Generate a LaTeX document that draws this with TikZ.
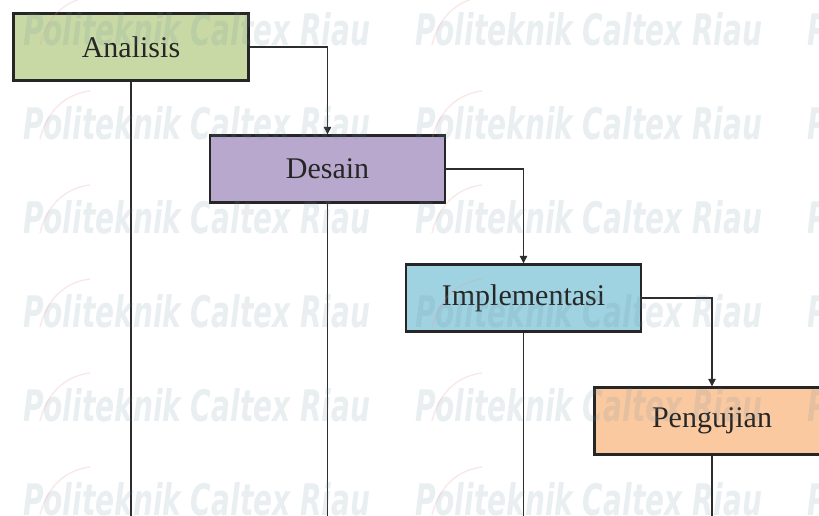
\documentclass[tikz,border=0pt]{standalone}
\usepackage{fontspec}
\setmainfont{Liberation Serif}
\newfontfamily\wmfont{DejaVu Sans Condensed}
\usetikzlibrary{arrows.meta}

\definecolor{boxgreen}{RGB}{201,217,165}
\definecolor{boxpurple}{RGB}{185,168,205}
\definecolor{boxblue}{RGB}{160,211,225}
\definecolor{boxorange}{RGB}{250,201,160}
\definecolor{linegray}{RGB}{45,45,45}
\definecolor{wmblue}{RGB}{100,140,160}
\definecolor{wmpink}{RGB}{235,150,150}

\tikzset{
  phase/.style={draw=black!85, line width=2.4pt, minimum width=235pt,
    minimum height=67pt, inner sep=0pt, font=\fontsize{30}{34}\selectfont,
    text=black!85},
  flow/.style={draw=linegray, line width=1.2pt,
    -{Triangle[width=7.5pt,length=7.5pt]}},
  drop/.style={draw=linegray, line width=1.2pt},
  wmtext/.style={anchor=north west, inner sep=0pt, text=wmblue, opacity=0.14},
  wmswoosh/.style={draw=wmpink, line width=1.4pt, opacity=0.22}
}

\begin{document}
\begin{tikzpicture}[x=1pt,y=-1pt]
  \useasboundingbox (0,0) rectangle (819,515);
  \clip (0,0) rectangle (819,515);
  \fill[white] (0,0) rectangle (819,515);

  % phase boxes
  \node[phase, fill=boxgreen]  (analisis) at (131,47)    {Analisis};
  \node[phase, fill=boxpurple] (desain)   at (327.5,169) {Desain};
  \node[phase, fill=boxblue]   (impl)     at (523.5,298) {Implementasi};
  \node[phase, fill=boxorange] (uji)      at (712,421)   {Pengujian};

  % loose ends of the drop lines
  \coordinate (analisis-end) at (analisis.south |- 0,520);
  \coordinate (desain-end)   at (desain.south |- 0,520);
  \coordinate (impl-end)     at (impl.south |- 0,520);
  \coordinate (uji-end)      at (uji.south |- 0,520);

  % step-down connectors
  \draw[flow] (analisis.east) -| (desain.north);
  \draw[flow] (desain.east) -| (impl.north);
  \draw[flow] (impl.east) -| (uji.north);

  % drop lines
  \draw[drop] (analisis.south) -- (analisis-end);
  \draw[drop] (desain.south) -- (desain-end);
  \draw[drop] (impl.south) -- (impl-end);
  \draw[drop] (uji.south) -- (uji-end);

  % watermark grid
  \foreach \r in {0,...,5}{
    \foreach \c in {0,1,2}{
      \pgfmathsetmacro{\wx}{23+392*\c}
      \pgfmathsetmacro{\wy}{12+94*\r}
      \node[wmtext] (wm-\r-\c) at (\wx,\wy)
        {\resizebox{347pt}{33pt}{\wmfont\bfseries\itshape Politeknik Caltex Riau}};
      \draw[wmswoosh] (\wx+17,\wy+33) .. controls (\wx+24,\wy+5) and (\wx+42,\wy-12) .. (\wx+67,\wy-15);
    }
  }
\end{tikzpicture}
\end{document}
